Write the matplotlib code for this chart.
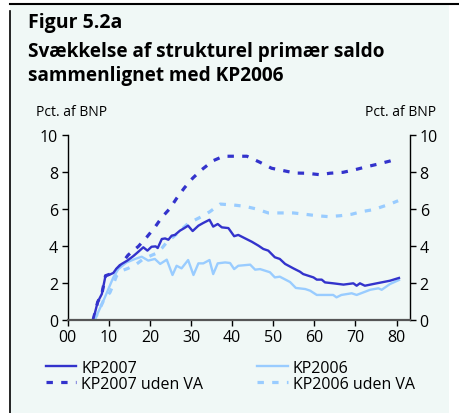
import numpy as np
import matplotlib
matplotlib.use("Agg")
import matplotlib.pyplot as plt
from matplotlib.patches import Rectangle
from matplotlib.lines import Line2D

plt.rcParams['font.family'] = ['Open Sans', 'DejaVu Sans']

# KP2007
kp07_x = [6.2, 7.3, 8.3, 9.2, 10.3, 11.1, 11.8, 13.0, 14.5, 16.0, 17.3, 18.4, 19.4, 20.4,
          21.4, 21.9, 22.9, 23.7, 24.5, 25.3, 26.1, 27.3, 28.3, 29.3, 30.4, 31.8, 33.0,
          34.5, 35.4, 36.5, 37.5, 39.1, 40.5, 41.5, 43.1, 44.8, 46.4, 47.6, 48.8, 50.4,
          51.6, 52.9, 54.9, 56.5, 57.3, 59.8, 60.6, 61.8, 62.6, 64.6, 67.1, 69.5, 70.3,
          71.1, 72.3, 75.2, 78.4, 80.6]
kp07_y = [0.0, 0.96, 1.39, 2.38, 2.45, 2.53, 2.75, 3.0, 3.2, 3.45, 3.7, 3.92, 3.74, 3.95,
          3.97, 3.88, 4.37, 4.40, 4.33, 4.55, 4.59, 4.82, 4.95, 5.09, 4.80, 5.09, 5.24,
          5.41, 5.04, 5.18, 5.00, 4.96, 4.52, 4.59, 4.41, 4.22, 4.01, 3.83, 3.74, 3.38,
          3.29, 3.02, 2.78, 2.60, 2.47, 2.29, 2.17, 2.17, 2.02, 1.97, 1.90, 1.97, 1.84,
          1.97, 1.84, 1.97, 2.11, 2.26]

# KP2006
kp06_x = [6.5, 7.4, 8.7, 9.9, 11.1, 12.3, 14.3, 16.4, 18.0, 19.6, 21.2, 22.5, 24.1, 25.5,
          26.5, 27.7, 29.3, 30.6, 31.8, 33.0, 34.5, 35.4, 36.5, 38.3, 39.5, 40.5, 41.5,
          44.4, 45.6, 46.8, 49.2, 50.4, 51.6, 54.1, 55.5, 57.8, 59.0, 60.6, 64.6, 65.4,
          66.6, 69.1, 70.3, 73.6, 75.6, 76.4, 78.4, 80.6]
kp06_y = [0.0, 0.4, 1.03, 1.66, 2.29, 2.74, 3.10, 3.29, 3.41, 3.20, 3.29, 3.02, 3.25, 2.42,
          2.92, 2.78, 3.23, 2.42, 3.05, 3.05, 3.23, 2.47, 3.05, 3.10, 3.07, 2.74, 2.92,
          2.98, 2.71, 2.74, 2.57, 2.29, 2.33, 2.04, 1.72, 1.66, 1.57, 1.34, 1.34, 1.21,
          1.34, 1.43, 1.34, 1.62, 1.70, 1.62, 1.93, 2.15]

# KP2007 uden VA
kp07va_x = [6.2, 7.3, 8.3, 9.2, 11.1, 13.0, 14.7, 17.2, 19.2, 21.2, 22.9, 24.9, 26.5, 28.4,
            30.4, 32.6, 35.4, 37.9, 40.7, 43.6, 46.8, 49.6, 52.5, 55.3, 58.1, 61.4, 63.8,
            67.0, 69.9, 72.7, 75.6, 78.4, 79.3]
kp07va_y = [0.0, 0.96, 1.39, 2.38, 2.53, 3.0, 3.5, 3.97, 4.46, 5.0, 5.54, 6.03, 6.57, 7.14,
            7.66, 8.12, 8.61, 8.85, 8.85, 8.85, 8.52, 8.20, 8.07, 7.94, 7.93, 7.85, 7.93,
            7.98, 8.12, 8.28, 8.43, 8.59, 8.65]

# KP2006 uden VA
kp06va_x = [6.5, 7.4, 8.7, 10.3, 11.9, 13.1, 14.7, 16.8, 18.4, 21.7, 22.9, 24.1, 26.5, 29.3,
            32.2, 34.6, 37.1, 40.3, 43.1, 46.0, 48.8, 51.6, 54.9, 57.7, 60.6, 63.4, 66.3,
            69.1, 71.5, 74.4, 76.8, 78.4, 80.4]
kp06va_y = [0.0, 0.4, 1.03, 1.48, 2.38, 2.65, 2.78, 3.02, 3.29, 3.61, 3.87, 4.19, 4.64, 5.21,
            5.54, 5.85, 6.26, 6.21, 6.14, 5.99, 5.78, 5.78, 5.78, 5.71, 5.63, 5.58, 5.63,
            5.71, 5.85, 5.96, 6.14, 6.26, 6.44]

x_ticks = [0, 10, 20, 30, 40, 50, 60, 70, 80]
x_labels = ['00', '10', '20', '30', '40', '50', '60', '70', '80']
y_ticks = [0, 2, 4, 6, 8, 10]

dark = '#3333cc'
light = '#99ccff'
bg = '#f0f8f6'

W, H = 459, 414
fig = plt.figure(figsize=(W / 100, H / 100), dpi=100)
fig.patch.set_facecolor('white')

# background panel and frame lines
fig.add_artist(Rectangle((10 / W, 0), 439 / W, 1 - 6 / H, transform=fig.transFigure,
                         facecolor=bg, edgecolor='none', zorder=-10))
fig.add_artist(Line2D([10 / W, 1], [1 - 5 / H, 1 - 5 / H], transform=fig.transFigure,
                      color='black', lw=1.5))
fig.add_artist(Line2D([10 / W, 10 / W], [0, 1 - 12 / H], transform=fig.transFigure,
                      color='black', lw=1.2))

# title
fig.text(28 / W, 1 - 28 / H, 'Figur 5.2a', fontsize=14, fontweight='bold', va='baseline')
fig.text(28 / W, 1 - 57 / H, 'Svækkelse af strukturel primær saldo', fontsize=13.7,
         fontweight='bold', va='baseline')
fig.text(28 / W, 1 - 81 / H, 'sammenlignet med KP2006', fontsize=13.7,
         fontweight='bold', va='baseline')

ax = fig.add_axes([67.7 / W, 93.3 / H, (410 - 67.7) / W, (320.7 - 136) / H])
ax.set_facecolor('none')

dash = (0, (2.0, 2.6))
ax.plot(kp07va_x, kp07va_y, color=dark, lw=2.3, linestyle=dash, label='KP2007 uden VA')
ax.plot(kp06va_x, kp06va_y, color=light, lw=2.3, linestyle=dash, label='KP2006 uden VA')
ax.plot(kp06_x, kp06_y, color=light, lw=1.7, label='KP2006')
ax.plot(kp07_x, kp07_y, color=dark, lw=1.7, label='KP2007')

ax.set_xlim(0, (410 - 67.7) / 4.11)
ax.set_ylim(0, 10)
ax.set_xticks(x_ticks)
ax.set_xticklabels(x_labels)
ax.set_yticks(y_ticks)
ax.spines['top'].set_visible(False)
ax.spines['right'].set_visible(True)
ax.spines['bottom'].set_color('#555555')
ax.spines['bottom'].set_linewidth(1.6)
ax.spines['left'].set_linewidth(1.0)
ax.spines['right'].set_linewidth(1.0)
ax.tick_params(axis='both', labelsize=11.5, length=4, width=1.0, pad=3)
ax.tick_params(axis='y', right=True, labelright=True)

fig.text(36 / W, 1 - 116 / H, 'Pct. af BNP', fontsize=10, va='baseline')
fig.text(436 / W, 1 - 116 / H, 'Pct. af BNP', fontsize=10, va='baseline', ha='right')

h = {l.get_label(): l for l in ax.get_lines()}
order = ['KP2007', 'KP2007 uden VA', 'KP2006', 'KP2006 uden VA']
fig.legend([h[k] for k in order], order, ncol=2, loc='upper left',
           bbox_to_anchor=(46 / W, 1 - 361 / H), frameon=False, fontsize=11.5,
           handlelength=1.9, handletextpad=0.3, columnspacing=3.4, labelspacing=0.0,
           borderaxespad=0, borderpad=0)

fig.savefig('out.png', dpi=100, facecolor=fig.get_facecolor())
